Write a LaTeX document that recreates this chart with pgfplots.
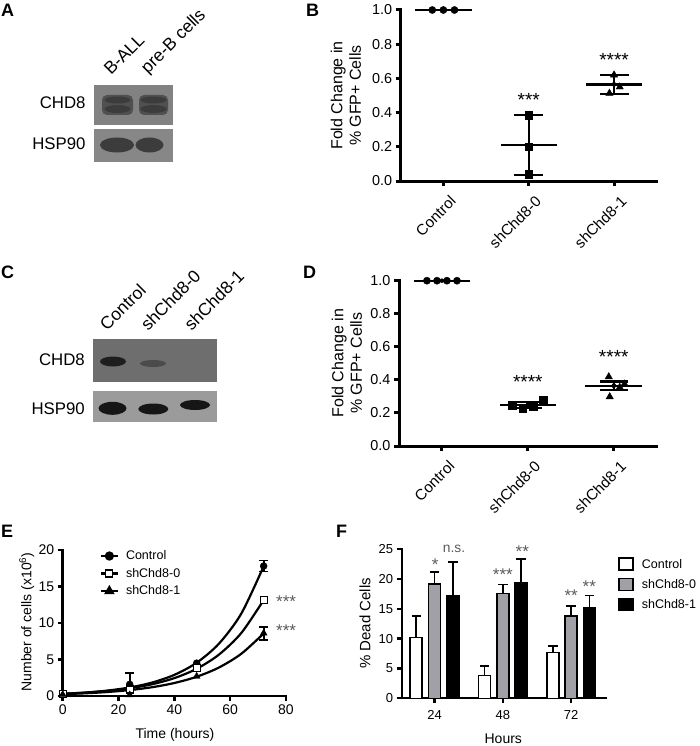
\documentclass[border=0pt]{standalone}
\usepackage{fontspec}
\setmainfont{Liberation Sans}
\usepackage{pgfplots}
\pgfplotsset{compat=1.18}
\definecolor{shgray}{RGB}{160,160,166}
\definecolor{starg}{RGB}{90,90,90}
\definecolor{bgA1}{RGB}{130,130,130}
\definecolor{bandA1}{RGB}{80,80,80}
\definecolor{darkA1}{RGB}{60,60,60}
\definecolor{bgA2}{RGB}{135,135,135}
\definecolor{bandA2}{RGB}{60,60,60}
\definecolor{bgC1}{RGB}{110,110,110}
\definecolor{bandC1}{RGB}{30,30,30}
\definecolor{faintC1}{RGB}{75,75,75}
\definecolor{bgC2}{RGB}{155,155,155}
\definecolor{bandC2}{RGB}{22,22,22}
\pgfplotsset{
 prism/.style={
  scale only axis,
  axis lines=left,
  axis line style={-, line width=#1, line cap=rect},
  tick align=outside,
  major tick length=5pt,
  tick style={black, line width=#1},
  /pgf/number format/assume math mode=true,
  clip=false,
 },
 sqleg/.style={legend image code/.code={\draw[##1, line width=1.6pt] (0pt,-6pt) rectangle (14pt,6pt);}},
}
\newcommand\fs[1]{\fontsize{#1}{#1}\selectfont}
\begin{document}
\begin{tikzpicture}
\path[use as bounding box] (0pt,0pt) rectangle (700pt,-746pt);
\begin{scope}[x=1pt,y=-1pt]
% panel letters
\foreach \l/\px/\py in {A/1/4, B/306/4, C/1/266, D/303/266, E/1/525, F/336/525}
  \node[anchor=north west, inner sep=0pt, font=\fs{18}\bfseries] at (\px,\py) {\l};
% ---- Blot A
\fill[bgA1] (94.3,85) rectangle (173,125);
\fill[bandA1, rounded corners=5pt] (102,95) rectangle (133,115);
\fill[bandA1, rounded corners=5pt] (139,95) rectangle (168,115);
\fill[darkA1] (117.5,100) ellipse (13pt and 3.5pt);
\fill[darkA1] (117.5,109) ellipse (13pt and 4pt);
\fill[darkA1] (153.5,100) ellipse (13pt and 3.5pt);
\fill[darkA1] (153.5,109) ellipse (13pt and 4pt);
\fill[bgA2] (94.3,129.3) rectangle (173,161.7);
\fill[bandA2] (117,145) ellipse (17pt and 7.5pt);
\fill[bandA2] (149.5,145) ellipse (14pt and 7.5pt);
\node[anchor=east, inner sep=0pt, font=\fs{16.8}] at (85.7,102.7) {CHD8};
\node[anchor=east, inner sep=0pt, font=\fs{16.8}] at (85.7,144) {HSP90};
\node[rotate=45, anchor=south west, inner sep=0pt, font=\fs{17.5}] at (111,76) {B-ALL};
\node[rotate=45, anchor=south west, inner sep=0pt, font=\fs{17.5}] at (150.5,77.5) {pre-B cells};
% ---- Blot C
\fill[bgC1] (92.7,339.3) rectangle (216.7,381.7);
\fill[bandC1] (113,361.5) ellipse (13pt and 5pt);
\fill[faintC1] (153,363.5) ellipse (13pt and 3.5pt);
\fill[bgC2] (92.7,391) rectangle (216.7,421.7);
\fill[bandC2] (112.5,408.3) ellipse (14pt and 6.5pt);
\fill[bandC2] (153.3,409) ellipse (15pt and 5.5pt);
\fill[bandC2] (195,405) ellipse (15pt and 5pt);
\node[anchor=east, inner sep=0pt, font=\fs{16.8}] at (85,360) {CHD8};
\node[anchor=east, inner sep=0pt, font=\fs{16.8}] at (85,408.3) {HSP90};
\node[rotate=45, anchor=south west, inner sep=0pt, font=\fs{17.5}] at (107.3,331.7) {Control};
\node[rotate=45, anchor=south west, inner sep=0pt, font=\fs{17.5}] at (148.3,331.7) {shChd8-0};
\node[rotate=45, anchor=south west, inner sep=0pt, font=\fs{17.5}] at (191.7,331.7) {shChd8-1};
% ---- axis labels
\node[rotate=90, align=center, font=\fontsize{16}{18.5}\selectfont] at (346,95.5) {Fold Change in\\\% GFP+ Cells};
\node[rotate=90, align=center, font=\fontsize{16}{18.5}\selectfont] at (347,363.3) {Fold Change in\\\% GFP+ Cells};
\node[rotate=90, font=\fs{14}] at (26.7,622) {Number of cells (x10\textsuperscript{6})};
\node[font=\fs{14}] at (175,735) {Time (hours)};
\node[rotate=90, font=\fs{15}] at (365,623.5) {\% Dead Cells};
\node[font=\fs{14}] at (503.3,739) {Hours};
\end{scope}

% ================= B
\begin{axis}[prism=3pt, at={(400.7pt,-181pt)}, anchor=south west,
  width=256pt, height=171pt, xmin=-0.5, xmax=2.5, ymin=0, ymax=1,
  xtick={0,1,2}, xticklabels={Control,shChd8-0,shChd8-1},
  ytick={0,0.2,0.4,0.6,0.8,1.0},
  yticklabel style={font=\fs{14.4}, /pgf/number format/.cd, fixed, fixed zerofill, precision=1},
  xticklabel style={font=\fs{15.2}, rotate=45, anchor=north east, inner sep=1pt, yshift=-9pt, xshift=-1pt}]
\addplot[black, only marks, mark=*, mark size=3.6pt] coordinates {(-0.13,1) (0,1) (0.13,1)};
\addplot[black, only marks, mark=square*, mark size=3.8pt] coordinates {(1,0.386) (1,0.20) (1,0.041)};
\addplot[black, only marks, mark=triangle*, mark size=4.2pt] coordinates {(2,0.62) (2.067,0.55) (1.946,0.513)};
\addplot[black, only marks, mark=none, error bars/.cd, x dir=both, x fixed=0.33, error mark=none, error bar style={line width=2.3pt}] coordinates {(0,1) (1,0.21) (2,0.565)};
\addplot[black, only marks, mark=none, error bars/.cd, y dir=both, y explicit, error mark=|, error mark options={mark size=14.5pt, line width=2.3pt}, error bar style={line width=2.3pt}] coordinates {(1,0.21) +- (0,0.175) (2,0.565) +- (0,0.055)};
\node[font=\fs{19}, yshift=-4pt] at (axis cs:1,0.50) {***};
\node[font=\fs{19}, yshift=-4pt] at (axis cs:2,0.73) {****};
\end{axis}

% ================= D
\begin{axis}[prism=3pt, at={(399pt,-446pt)}, anchor=south west,
  width=257.7pt, height=165.3pt, xmin=-0.5, xmax=2.5, ymin=0, ymax=1,
  xtick={0,1,2}, xticklabels={Control,shChd8-0,shChd8-1},
  ytick={0,0.2,0.4,0.6,0.8,1.0},
  yticklabel style={font=\fs{14.4}, /pgf/number format/.cd, fixed, fixed zerofill, precision=1},
  xticklabel style={font=\fs{15.2}, rotate=45, anchor=north east, inner sep=1pt, yshift=-9pt, xshift=-1pt}]
\addplot[black, only marks, mark=*, mark size=3.6pt] coordinates {(-0.175,1) (-0.058,1) (0.058,1) (0.175,1)};
\addplot[black, only marks, mark=square*, mark size=3.8pt] coordinates {(0.82,0.248) (0.942,0.226) (1.062,0.238) (1.18,0.278)};
\addplot[black, only marks, mark=triangle*, mark size=4.2pt] coordinates {(1.942,0.419) (2.07,0.355) (2.125,0.375) (1.953,0.298)};
\addplot[black, only marks, mark=none, error bars/.cd, x dir=both, x fixed=0.33, error mark=none, error bar style={line width=2.3pt}] coordinates {(0,1) (1,0.248) (2,0.365)};
\addplot[black, only marks, mark=none, error bars/.cd, y dir=both, y explicit, error mark=|, error mark options={mark size=14pt, line width=2.3pt}, error bar style={line width=2.3pt}] coordinates {(1,0.248) +- (0,0.02) (2,0.365) +- (0,0.025)};
\node[font=\fs{19}, yshift=-4pt] at (axis cs:1,0.41) {****};
\node[font=\fs{19}, yshift=-4pt] at (axis cs:2,0.564) {****};
\end{axis}

% ================= E
\begin{axis}[prism=2.5pt, at={(62.7pt,-696pt)}, anchor=south west,
  width=223.3pt, height=146pt, xmin=0, xmax=80, ymin=0, ymax=20,
  xtick={0,20,40,60,80}, ytick={0,5,10,15,20},
  ticklabel style={font=\fs{14}},
  legend style={at={(0.165,1.01)}, anchor=north west, draw=none, fill=none, font=\fs{12.5}, row sep=3pt, inner sep=0pt},
  legend cell align=left]
\addlegendimage{black, line width=2.2pt, mark=*, mark size=3.5pt, mark options={solid}}
\addlegendentry{\hspace{5pt}Control}
\addlegendimage{black, line width=2.2pt, mark=square*, mark size=3.5pt, mark options={fill=white, line width=1.2pt}}
\addlegendentry{\hspace{5pt}shChd8-0}
\addlegendimage{black, line width=2.2pt, mark=triangle*, mark size=4pt}
\addlegendentry{\hspace{5pt}shChd8-1}
% exponential growth fit curves
\addplot[black, line width=2.2pt, smooth, no marks, forget plot] coordinates {(0,0.30) (8,0.472) (16,0.743) (24,1.169) (32,1.840) (40,2.897) (48,4.56) (56,7.18) (64,11.30) (72,17.78)};
\addplot[black, line width=2.2pt, smooth, no marks, forget plot] coordinates {(0,0.30) (8,0.457) (16,0.695) (24,1.058) (32,1.610) (40,2.451) (48,3.73) (56,5.68) (64,8.64) (72,13.15)};
\addplot[black, line width=2.2pt, smooth, no marks, forget plot] coordinates {(0,0.25) (8,0.370) (16,0.548) (24,0.812) (32,1.203) (40,1.781) (48,2.638) (56,3.907) (64,5.79) (72,8.57)};
% error bars
\addplot[black, only marks, mark=none, forget plot, error bars/.cd, y dir=both, y explicit, error mark=|, error mark options={mark size=4.5pt, line width=1.8pt}, error bar style={line width=1.8pt}] coordinates {(24,1.6) +- (0,1.6) (72,17.8) +- (0,0.75) (72,8.6) +- (0,0.9)};
% points
\addplot[black, only marks, mark=*, mark size=3.5pt, forget plot] coordinates {(0,0.3) (24,1.6) (48,4.5) (72,17.8)};
\addplot[black, only marks, mark=square*, mark size=3.5pt, mark options={fill=white, line width=1.2pt}, forget plot] coordinates {(0,0.3) (24,0.9) (48,3.8) (72,13.15)};
\addplot[black, only marks, mark=triangle*, mark size=4pt, forget plot] coordinates {(0,0.2) (24,0.15) (48,2.7) (72,8.6)};
\node[font=\fs{17}, text=starg, anchor=west, yshift=-3.5pt, inner sep=0pt] at (axis cs:76.4,13.46) {***};
\node[font=\fs{17}, text=starg, anchor=west, yshift=-3.5pt, inner sep=0pt] at (axis cs:76.4,9.4) {***};
\end{axis}

% ================= F
\begin{axis}[prism=2.2pt, at={(401.7pt,-698.3pt)}, anchor=south west,
  width=204.3pt, height=149.3pt, xmin=-0.48, xmax=2.51, ymin=0, ymax=25,
  ybar=6.3pt, bar width=12pt,
  xtick={0,1,2}, xticklabels={24,48,72}, ytick={0,5,10,15,20,25},
  ticklabel style={font=\fs{13}},
  xticklabel style={yshift=-4pt},
  legend style={at={(1.059,0.948)}, anchor=north west, draw=none, fill=none, font=\fs{12.5}, row sep=5.5pt, inner sep=0pt,
    /tikz/every odd column/.append style={column sep=6pt}},
  legend cell align=left]
\addplot[sqleg, draw=black, fill=white, line width=1.6pt, error bars/.cd, y dir=plus, y explicit, error mark=|, error mark options={mark size=4.7pt, line width=1.7pt}, error bar style={line width=1.7pt}] coordinates {(0,10.16) +- (0,3.64) (1,3.85) +- (0,1.56) (2,7.70) +- (0,1.11)};
\addlegendentry{Control}
\addplot[sqleg, draw=black, fill=shgray, line width=1.6pt, error bars/.cd, y dir=plus, y explicit, error mark=|, error mark options={mark size=4.7pt, line width=1.7pt}, error bar style={line width=1.7pt}] coordinates {(0,19.14) +- (0,1.96) (1,17.58) +- (0,1.5) (2,13.78) +- (0,1.67)};
\addlegendentry{shChd8-0}
\addplot[sqleg, draw=black, fill=black, line width=1.6pt, error bars/.cd, y dir=plus, y explicit, error mark=|, error mark options={mark size=4.7pt, line width=1.7pt}, error bar style={line width=1.7pt}] coordinates {(0,17.13) +- (0,5.64) (1,19.26) +- (0,4.07) (2,15.23) +- (0,2.01)};
\addlegendentry{shChd8-1}
\node[font=\fs{13.8}, text=starg] at (axis cs:0.285,25.1) {n.s.};
\node[font=\fs{17}, text=starg, yshift=-3.5pt] at (axis cs:0.01,22.9) {*};
\node[font=\fs{17}, text=starg, yshift=-3.5pt] at (axis cs:1.0,21.3) {***};
\node[font=\fs{17}, text=starg, yshift=-3.5pt] at (axis cs:1.285,25.1) {**};
\node[font=\fs{17}, text=starg, yshift=-3.5pt] at (axis cs:2.0,17.7) {**};
\node[font=\fs{17}, text=starg, yshift=-3.5pt] at (axis cs:2.265,19.3) {**};
\end{axis}
\end{tikzpicture}
\end{document}
